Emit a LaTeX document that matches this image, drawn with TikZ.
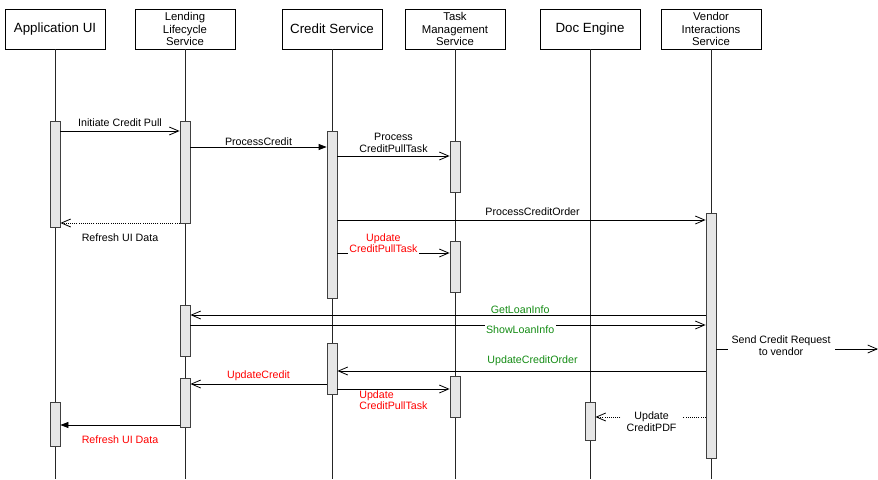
\documentclass[tikz,border=0pt]{standalone}
\usepackage{fontspec}
\setmainfont{Liberation Sans}
\usetikzlibrary{arrows.meta,positioning}

\definecolor{msgred}{RGB}{255,0,0}
\definecolor{msggreen}{RGB}{20,140,20}
\definecolor{barfill}{RGB}{230,230,230}

\tikzset{
  actor/.style={draw,fill=white,line width=0.6pt,minimum width=75pt,minimum height=30pt,
    align=center,inner sep=1pt,font=\fontsize{8.5}{9.4}\selectfont},
  bigactor/.style={actor,font=\fontsize{10}{11}\selectfont},
  life/.style={line width=0.6pt,black!85},
  actbar/.style={draw=black!75,fill=barfill,line width=0.6pt,minimum width=7.5pt,inner sep=0pt,anchor=north},
  msg/.style={line width=0.6pt,-{Straight Barb[length=7pt,width=6pt]}},
  callmsg/.style={line width=0.6pt,-{Triangle[length=6pt,width=4.5pt]}},
  retmsg/.style={msg,densely dotted},
  lbl/.style={inner sep=1pt,align=center}
}

% activation bar: name, x, top, bottom
\newcommand{\actbar}[4]{\node[actbar,minimum height={(#4-#3)*0.75pt}] (#1) at (#2,#3) {};}

\begin{document}
\begin{tikzpicture}[x=0.75pt,y=-0.75pt,font=\fontsize{8}{8.5}\selectfont]
\useasboundingbox (0,0) rectangle (878,479);

% participants
\node[bigactor] (appui) at (55,29) {Application UI};
\node[actor] (lending) at (185,29) {Lending\\Lifecycle\\Service};
\node[bigactor] (credit) at (332,29) {Credit Service};
\node[actor] (task) at (455,29) {Task\\Management\\Service};
\node[bigactor] (docengine) at (590,29) {Doc Engine};
\node[actor] (vendor) at (711,29) {Vendor\\Interactions\\Service};

% lifelines
\foreach \p in {appui,lending,credit,task,docengine,vendor}
  \draw[life] (\p.south) -- (\p |- 0,479);

% activation bars
\actbar{appui1}{55}{121}{227}
\actbar{appui2}{55}{402}{446}
\actbar{lending1}{185}{121}{223}
\actbar{lending2}{185}{305}{356}
\actbar{lending3}{185}{378}{427}
\actbar{credit1}{332}{131}{298}
\actbar{credit2}{332}{343}{394}
\actbar{task1}{455}{141}{192}
\actbar{task2}{455}{241}{292}
\actbar{task3}{455}{376}{417}
\actbar{docengine1}{590}{402}{440}
\actbar{vendor1}{711}{213}{458}

\coordinate (vendorout) at (878,349);

% messages
\draw[msg] (appui1.east |- 0,131) -- node[lbl,above=2pt] (initlbl) {Initiate Credit Pull} (lending1.west |- 0,131);
\draw[callmsg] (lending1.east |- 0,147) -- node[lbl,above] (proclbl) {ProcessCredit} (credit1.west |- 0,147);
\draw[msg] (credit1.east |- 0,156) -- node[lbl,above=1.5pt] (tasklbl) {Process\\CreditPullTask} (task1.west |- 0,156);
\draw[retmsg] (lending1.west |- 0,223) -- node[lbl,below=6.5pt] (refreshlbl) {Refresh UI Data} (appui1.east |- 0,223);
\draw[msg] (credit1.east |- 0,220) -- node[lbl,above=2pt,pos=0.53] (orderlbl) {ProcessCreditOrder} (vendor1.west |- 0,220);
\draw[msg] (credit1.east |- 0,253) -- node[lbl,fill=white,pos=0.41,yshift=7.5pt,text=msgred] (updlbl) {Update\\CreditPullTask} (task2.west |- 0,253);
\draw[msg] (vendor1.west |- 0,315) -- node[lbl,fill=white,pos=0.36,anchor=base,yshift=1.5pt,text=msggreen] (getlbl) {GetLoanInfo} (lending2.east |- 0,315);
\draw[msg] (lending2.east |- 0,325) -- node[lbl,fill=white,pos=0.64,anchor=base,yshift=-6pt,text=msggreen] (showlbl) {ShowLoanInfo} (vendor1.west |- 0,325);
\draw[msg] (vendor1.east |- 0,349) -- node[lbl,fill=white,pos=0.40,yshift=2.5pt,inner xsep=3pt] (sendlbl) {Send Credit Request\\to vendor} (vendorout);
\draw[msg] (vendor1.west |- 0,371) -- node[lbl,above=3pt,pos=0.47,text=msggreen] (updorderlbl) {UpdateCreditOrder} (credit2.east |- 0,371);
\draw[msg] (credit2.west |- 0,384) -- node[lbl,above=1.5pt,text=msgred] (updcreditlbl) {UpdateCredit} (lending3.east |- 0,384);
\draw[msg] (credit2.east |- 0,389) -- node[lbl,anchor=north west,pos=0.18,align=left,text=msgred] (upd2lbl) {Update\\CreditPullTask} (task3.west |- 0,389);
\draw[callmsg] (lending3.west |- 0,425) -- node[lbl,below=6.5pt,text=msgred] (refresh2lbl) {Refresh UI Data} (appui2.east |- 0,425);
\draw[retmsg] (vendor1.west |- 0,417) -- node[lbl,fill=white,pos=0.49,yshift=-3.4pt,inner xsep=4pt] (pdflbl) {Update\\CreditPDF} (docengine1.east |- 0,417);
\end{tikzpicture}
\end{document}
